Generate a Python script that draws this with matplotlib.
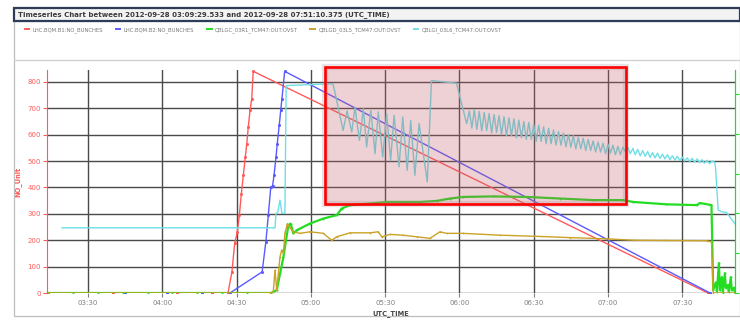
import matplotlib
matplotlib.use("Agg")
import matplotlib.pyplot as plt
import matplotlib.dates as mdates
from matplotlib.lines import Line2D
from matplotlib.patches import Rectangle
import pandas as pd


BASE = pd.Timestamp("2012-09-28 03:00:00")
TITLE = "Timeseries Chart between 2012-09-28 03:09:29.533 and 2012-09-28 07:51:10.375 (UTC_TIME)"
LABELS = [
    "LHC.BQM.B1:NO_BUNCHES",
    "LHC.BQM.B2:NO_BUNCHES",
    "QBLGC_03R1_TCM47:OUT:OVST",
    "QBLGD_03L5_TCM47:OUT:OVST",
    "QBLGI_03L6_TCM47:OUT:OVST",
]
COLORS = ["#ff5a5a", "#5a5aff", "#22dd22", "#c9a227", "#6fdfe6"]

# all times are minutes after 03:00 UTC
RED_T = [14, 40, 66, 80, 86.5, 88.1, 89.2, 90.3, 91.1, 91.9, 92.7, 93.5, 94.1, 94.7, 95.4, 96.1, 96.7, 280.4]
RED_V = [0, 0, 0, 0, 0, 80, 188, 232, 295, 377, 446, 515, 566, 629, 692, 736, 840, 0]

BLUE_T = [14, 45, 62, 76, 87.3, 100.3, 101.8, 102.8, 103.8, 104.5, 105.1, 105.9, 106.4, 107.2, 107.8, 108.3, 109.4, 281.2]
BLUE_V = [0, 0, 0, 0, 0, 80, 194, 295, 402, 405, 446, 515, 566, 635, 692, 736, 840, 0]

GREEN_T = [14, 24, 34, 44, 54, 64, 74, 84, 94, 104, 106.2, 108.9, 110.9, 111.8, 112.9, 114.3, 119.6,
           125.0, 130.4, 132.4, 135.8, 143.9, 150.6, 157.2, 164.1, 170.8, 176.2, 181.5, 193.7,
           207.1, 220.6, 234.0, 246.0, 250.2, 263.6, 275.8, 277.1, 281.8, 282.5, 283.6, 284.0,
           284.8, 285.2, 286.0, 286.4, 287.2, 287.6, 288.4, 288.8, 289.6, 290.0, 290.9, 291.3]
GREEN_V = [0, 0, 0, 0, 0, 0, 0, 0, 0, 0, 11, 137, 257, 263, 226, 238, 263,
           282, 295, 320, 333, 339, 345, 345, 345, 349, 358, 364, 366,
           364, 358, 352, 352, 345, 336, 333, 341, 333, 11, 40, 5,
           113, 10, 60, 0, 75, 20, 30, 5, 60, 10, 20, 0]

GOLD_T = [14, 103.5, 104.8, 105.5, 106.2, 107.5, 108.2, 108.9, 109.5, 110.5, 111.3, 112.9, 115.6,
          119.6, 125.0, 128.4, 130.4, 135.8, 143.9, 147.2, 148.6, 151.9, 157.3, 162.7, 168.1,
          172.1, 174.8, 181.5, 196.4, 210.1, 224.6, 240.0, 250.2, 263.6, 279.8, 281.8, 282.5, 291.3]
GOLD_V = [0, 0, 5, 87, 10, 137, 163, 150, 226, 263, 250, 232, 226,
          232, 226, 200, 213, 228, 228, 232, 213, 222, 219, 213, 207,
          232, 226, 226, 219, 215, 210, 205, 200, 199, 198, 194, 0, 0]

CYAN_T = [19.5, 105.5, 105.9, 106.6, 107.5, 108.3, 109.5, 110.0, 128.9, 129.7, 133.0, 134.6,
          136.5, 137.8, 139.6, 141.2, 142.5, 144.2, 145.9, 147.2, 149.0, 150.6, 152.2, 153.6,
          155.6, 157.1, 158.9, 160.3, 162.0, 163.7, 167.0, 168.7, 178.8, 182.9,
          184, 185, 186, 187, 188, 189, 190, 191, 192, 193, 194, 195, 196, 197, 198, 199,
          200, 201, 202, 203, 204, 205, 206, 207, 208, 209, 210, 211, 212, 213, 214, 215,
          216, 217, 218, 219, 220, 221, 222, 223, 224, 225, 226, 227, 228, 229, 230, 231,
          232, 233, 234, 235, 236, 237, 238, 239, 240, 241, 242, 243, 244, 245, 246,
          247, 248, 249, 250, 251, 252, 253, 254, 255, 256, 257, 258, 259, 260, 261, 262,
          263, 264, 265, 266, 267, 268, 269, 270, 271, 272, 273, 274, 275, 276, 277, 278,
          279, 280, 281, 282, 283, 283.4, 284.5, 286.0, 287.9, 291.3]
CYAN_V = [247, 247, 302, 305, 352, 302, 302, 786, 793, 760, 616, 690,
          610, 704, 578, 698, 553, 692, 528, 686, 515, 679, 503, 673,
          478, 667, 465, 654, 446, 642, 421, 805, 795, 642,
          690, 625, 695, 620, 688, 614, 684, 616, 680, 606, 676, 608, 672, 600, 668, 596,
          664, 596, 660, 588, 655, 588, 650, 582, 646, 582, 640, 574, 636, 574, 630, 566,
          624, 566, 618, 560, 612, 560, 606, 554, 600, 552, 596, 546, 590, 546, 586, 540,
          582, 540, 576, 534, 572, 534, 568, 528, 564, 530, 560, 524, 556, 524, 552,
          536, 552, 528, 548, 524, 544, 520, 540, 518, 536, 514, 532, 512, 530, 510, 526,
          508, 524, 506, 520, 504, 518, 502, 515, 500, 512, 498, 510, 496, 508, 494, 505,
          492, 503, 490, 500, 496, 480, 314, 308, 305, 262]

X_RANGE = (13.4, 291.3)
Y_RANGE = (0, 845)
Y_TICKS = [0, 100, 200, 300, 400, 500, 600, 700, 800]
HIGHLIGHT_X = (125.7, 247.2)
HIGHLIGHT_Y = (336, 857)


def to_time(minutes):
    return BASE + pd.to_timedelta(minutes, unit="min")


def main() -> None:
    fig = plt.figure(figsize=(7.4, 3.21), dpi=100)
    W, H = 740, 321

    # panel frames
    fig.add_artist(Rectangle((14 / W, 1 - 316 / H), 726 / W, 295 / H, transform=fig.transFigure,
                             facecolor="white", edgecolor="#bdbdbd", lw=0.9, zorder=0))
    fig.add_artist(Rectangle((14 / W, 1 - 21 / H), 726 / W, 13 / H, transform=fig.transFigure,
                             facecolor="#f3f3f3", edgecolor="#2f3c58", lw=1.6, zorder=1))
    fig.add_artist(Line2D([14 / W, 1], [1 - 60 / H] * 2, transform=fig.transFigure, color="#cfcfcf", lw=0.9))
    fig.text(18 / W, 1 - 14.5 / H, TITLE, fontsize=5.0, fontweight="bold", color="#3a3a3a",
             va="center", ha="left")

    ax = fig.add_axes([47 / W, 28 / H, 688 / W, 223 / H])
    series = [(RED_T, RED_V, 2.2), (BLUE_T, BLUE_V, 2.2), (GREEN_T, GREEN_V, 1.4),
              (GOLD_T, GOLD_V, 1.2), (CYAN_T, CYAN_V, 0)]
    order = [4, 3, 2, 0, 1]
    for idx in order:
        t, v, ms = series[idx]
        lw = 1.6 if idx == 2 else 1.0
        ax.plot(to_time(t), v, color=COLORS[idx], lw=lw, marker="o" if ms else None,
                markersize=ms, markeredgewidth=0, label=LABELS[idx], zorder=3 + idx)

    ax.set_xlim(to_time(X_RANGE[0]), to_time(X_RANGE[1]))
    ax.set_ylim(*Y_RANGE)
    ax.set_yticks(Y_TICKS)
    ax.xaxis.set_major_locator(mdates.MinuteLocator(byminute=[0, 30]))
    ax.xaxis.set_major_formatter(mdates.DateFormatter("%H:%M"))
    ax.grid(True, color="#4a4a4a", lw=1.0, zorder=1)
    ax.tick_params(axis="y", colors="#ff5a5a", labelsize=5, length=3, width=0.8, pad=1.5)
    ax.tick_params(axis="x", colors="#808080", labelsize=5, length=3, width=0.8, pad=2)
    for side in ("top", "bottom"):
        ax.spines[side].set_visible(False)
    ax.spines["left"].set_color("#ff5a5a")
    ax.spines["right"].set_color("#22dd22")
    ax.set_ylabel("NO_Unit", color="#ff5a5a", fontsize=4.8, fontweight="bold", labelpad=4)
    ax.set_xlabel("UTC_TIME", color="#444444", fontsize=4.8, fontweight="bold", labelpad=3)

    twin = ax.twinx()
    twin.set_ylim(0, 5.6)
    twin.set_yticks([0, 1, 2, 3, 4, 5])
    twin.tick_params(axis="y", colors="#22dd22", labelright=False, length=3, width=0.8)
    for side in ("top", "bottom", "left"):
        twin.spines[side].set_visible(False)
    twin.spines["right"].set_color("#22dd22")

    # highlighted region
    xs = mdates.date2num([to_time(HIGHLIGHT_X[0]), to_time(HIGHLIGHT_X[1])])
    ax.add_patch(Rectangle((xs[0], HIGHLIGHT_Y[0]), xs[1] - xs[0], HIGHLIGHT_Y[1] - HIGHLIGHT_Y[0],
                           facecolor="none", edgecolor="#999999", lw=4.5, alpha=0.25,
                           clip_on=False, zorder=9))
    ax.add_patch(Rectangle((xs[0], HIGHLIGHT_Y[0]), xs[1] - xs[0], HIGHLIGHT_Y[1] - HIGHLIGHT_Y[0],
                           facecolor=(0.76, 0.36, 0.40, 0.28), edgecolor="#ff0000", lw=1.9,
                           clip_on=False, zorder=10))

    leg_handles = [Line2D([], [], color=c, lw=1.4) for c in COLORS]
    fig.legend(leg_handles, LABELS, ncol=5, loc="center left", bbox_to_anchor=(22 / W, 1 - 30 / H),
               frameon=False, fontsize=3.8, handlelength=0.9, handletextpad=0.6,
               columnspacing=2.4, labelcolor="#7a7a7a", borderpad=0)

    fig.savefig("out.png", dpi=100)
    plt.close(fig)


if __name__ == "__main__":
    main()
